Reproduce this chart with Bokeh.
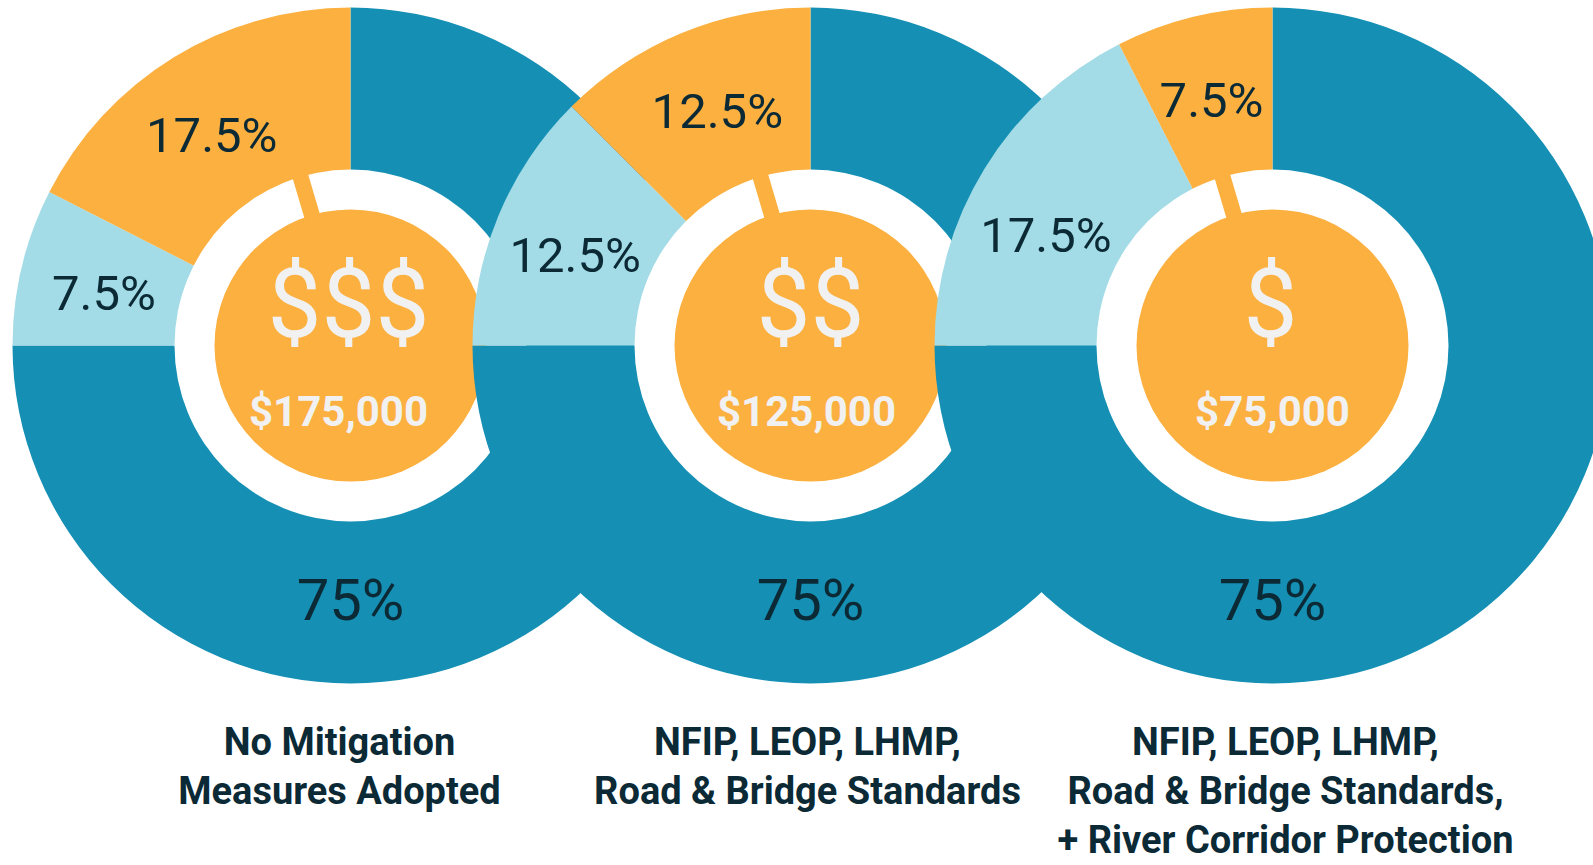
import numpy as np
from bokeh.plotting import figure
from bokeh.models import Range1d
from bokeh.embed import file_html
from bokeh.resources import INLINE
from bokeh.core.properties import value

# ---------------- data ----------------
scenarios = ["No Mitigation Measures Adopted",
             "NFIP, LEOP, LHMP, Road & Bridge Standards",
             "NFIP, LEOP, LHMP, Road & Bridge Standards, + River Corridor Protection"]
label_lines = [["No Mitigation", "Measures Adopted"],
               ["NFIP, LEOP, LHMP,", "Road & Bridge Standards"],
               ["NFIP, LEOP, LHMP,", "Road & Bridge Standards,", "+ River Corridor Protection"]]
share_blue = [75.0, 75.0, 75.0]
share_light = [7.5, 12.5, 17.5]
share_orange = [17.5, 12.5, 7.5]
cost_symbols = ["$$$", "$$", "$"]
cost_labels = ["$175,000", "$125,000", "$75,000"]

# ---------------- layout / style ----------------
W, H = 1593, 865
SCREEN_H = 865
BLUE = "#1590b4"
LIGHT = "#a3dce6"
ORANGE = "#fbb040"
DARK = "#0b2a36"
PALE = "#f1f1f1"
FONT = "Roboto"

cx_screen = [350, 810, 1272]
cy_screen = 345
R_OUT, R_WHITE, R_CORE = 338, 176, 136
STUB_ANGLE = np.deg2rad(106.5)
label_radius = 252
light_nudge = [1.5, 1.5, 5.5]   # degrees
orange_nudge = [1.9, -0.8, 0.5]
cost_dx = [-12, -4, 0]
sym_dx = [-2, 0, -2]
title_dx = [-11, -3, 13]


def Y(sy):
    return SCREEN_H - sy


p = figure(width=W, height=H, output_backend="svg", toolbar_location=None,
           x_range=Range1d(0, W), y_range=Range1d(0, H),
           x_axis_type=None, y_axis_type=None, min_border=0,
           background_fill_color="white", border_fill_color="white")
p.outline_line_color = None
p.grid.visible = False


def txt(x, y, s, size, color, bold=False):
    # y is the visual (cap-height) centre of the text
    p.text(x=[x], y=[y], text=[s], text_font=value(FONT), text_font_size=f"{size}px",
           text_font_style="bold" if bold else "normal", text_color=color,
           text_align="center", text_baseline="alphabetic")


for i in range(3):
    cx = cx_screen[i]
    cy = Y(cy_screen)
    shares = [share_blue[i], share_light[i], share_orange[i]]
    colors = [BLUE, LIGHT, ORANGE]
    # clockwise from 12 o'clock
    start = np.pi / 2
    mids = []
    for s, c in zip(shares, colors):
        sweep = s / 100.0 * 2 * np.pi
        end = start - sweep
        p.wedge(x=[cx], y=[cy], radius=R_OUT, start_angle=[start], end_angle=[end],
                direction="clock", fill_color=c, line_color=None)
        mids.append((start + end) / 2)
        start = end
    # white ring, stub, core
    p.circle(x=[cx], y=[cy], radius=R_WHITE, fill_color="white", line_color=None)
    p.segment(x0=[cx + (R_CORE - 10) * np.cos(STUB_ANGLE)], y0=[cy + (R_CORE - 10) * np.sin(STUB_ANGLE)],
              x1=[cx + (R_WHITE + 12) * np.cos(STUB_ANGLE)], y1=[cy + (R_WHITE + 12) * np.sin(STUB_ANGLE)],
              line_color=ORANGE, line_width=16, line_cap="butt")
    p.circle(x=[cx], y=[cy], radius=R_CORE, fill_color=ORANGE, line_color=None)

    def pct(v):
        return f"{v:g}%"
    # big share at bottom
    txt(cx, cy - 254, pct(share_blue[i]), 58, DARK)
    a = mids[1] + np.deg2rad(light_nudge[i])
    txt(cx + label_radius * np.cos(a), cy + label_radius * np.sin(a),
        pct(share_light[i]), 49, DARK)
    a = mids[2] + np.deg2rad(orange_nudge[i])
    txt(cx + label_radius * np.cos(a), cy + label_radius * np.sin(a),
        pct(share_orange[i]), 49, DARK)

    # centre texts
    txt(cx + sym_dx[i], Y(303), cost_symbols[i], 96, PALE)
    txt(cx + cost_dx[i], Y(411), cost_labels[i], 42, PALE, bold=True)

    # scenario labels
    for j, line in enumerate(label_lines[i]):
        txt(cx + title_dx[i], Y(741 + 49 * j), line, 38, DARK, bold=True)

open("out.html", "w").write(file_html(p, INLINE))
